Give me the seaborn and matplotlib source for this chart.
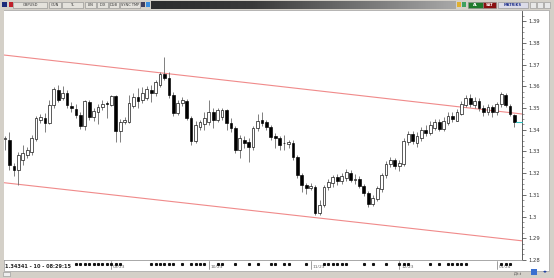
import numpy as np
import pandas as pd
import matplotlib
matplotlib.use("Agg")
import matplotlib.pyplot as plt
import matplotlib.transforms as mtrans
from matplotlib.patches import Rectangle
from matplotlib.colors import LinearSegmentedColormap
import seaborn as sns

# ---------------- data (GBPUSD daily candles) ----------------
opens = [1.3358, 1.3353, 1.3233, 1.3215, 1.3261, 1.3284, 1.3298, 1.3358, 1.3446, 1.3455,
         1.3432, 1.3515, 1.3584, 1.3547, 1.3570, 1.3510, 1.3496, 1.3469, 1.3418, 1.3528,
         1.3459, 1.3482, 1.3505, 1.3524, 1.3515, 1.3556, 1.3395, 1.3436, 1.3436, 1.3510,
         1.3551, 1.3538, 1.3547, 1.3584, 1.3570, 1.3607, 1.3658, 1.3639, 1.3561, 1.3478,
         1.3524, 1.3533, 1.3455, 1.3349, 1.3413, 1.3427, 1.3436, 1.3482, 1.3446, 1.3459,
         1.3492, 1.3432, 1.3409, 1.3307, 1.3353, 1.3344, 1.3321, 1.3409, 1.3446, 1.3436,
         1.3413, 1.3371, 1.3362, 1.3339, 1.3335, 1.3339, 1.3275, 1.3192, 1.3146, 1.3132,
         1.3137, 1.3017, 1.3054, 1.3137, 1.3155, 1.3183, 1.3164, 1.3180, 1.3200, 1.3170,
         1.3175, 1.3140, 1.3110, 1.3060, 1.3080, 1.3125, 1.3190, 1.3240, 1.3260, 1.3235,
         1.3240, 1.3345, 1.3380, 1.3340, 1.3360, 1.3400, 1.3385, 1.3410, 1.3435, 1.3405,
         1.3430, 1.3465, 1.3440, 1.3475, 1.3515, 1.3545, 1.3515, 1.3535, 1.3500, 1.3480,
         1.3505, 1.3480, 1.3519, 1.3561, 1.3510, 1.3469]
closes = [1.3360, 1.3238, 1.3215, 1.3284, 1.3293, 1.3307, 1.3363, 1.3455, 1.3459, 1.3432,
          1.3515, 1.3588, 1.3538, 1.3570, 1.3515, 1.3501, 1.3469, 1.3418, 1.3533, 1.3459,
          1.3487, 1.3505, 1.3519, 1.3519, 1.3556, 1.3395, 1.3436, 1.3446, 1.3524, 1.3551,
          1.3533, 1.3570, 1.3588, 1.3570, 1.3621, 1.3658, 1.3639, 1.3561, 1.3478, 1.3524,
          1.3538, 1.3455, 1.3349, 1.3422, 1.3436, 1.3455, 1.3482, 1.3446, 1.3492, 1.3492,
          1.3432, 1.3409, 1.3307, 1.3363, 1.3339, 1.3321, 1.3409, 1.3441, 1.3432, 1.3413,
          1.3367, 1.3362, 1.3330, 1.3337, 1.3344, 1.3275, 1.3192, 1.3146, 1.3132, 1.3141,
          1.3017, 1.3054, 1.3137, 1.3160, 1.3183, 1.3164, 1.3188, 1.3205, 1.3170, 1.3175,
          1.3140, 1.3110, 1.3060, 1.3085, 1.3130, 1.3190, 1.3240, 1.3260, 1.3235, 1.3245,
          1.3350, 1.3380, 1.3350, 1.3370, 1.3400, 1.3385, 1.3420, 1.3435, 1.3405, 1.3440,
          1.3465, 1.3450, 1.3480, 1.3520, 1.3545, 1.3520, 1.3535, 1.3500, 1.3480, 1.3505,
          1.3480, 1.3520, 1.3565, 1.3515, 1.3473, 1.3434]
highs = [1.3371, 1.3390, 1.3245, 1.3298, 1.3330, 1.3321, 1.3376, 1.3464, 1.3473, 1.3478,
         1.3538, 1.3598, 1.3607, 1.3602, 1.3584, 1.3528, 1.3519, 1.3482, 1.3538, 1.3538,
         1.3501, 1.3519, 1.3538, 1.3533, 1.3561, 1.3561, 1.3450, 1.3459, 1.3561, 1.3570,
         1.3593, 1.3598, 1.3602, 1.3607, 1.3630, 1.3667, 1.3736, 1.3667, 1.3575, 1.3538,
         1.3551, 1.3542, 1.3464, 1.3441, 1.3446, 1.3482, 1.3538, 1.3501, 1.3501, 1.3501,
         1.3496, 1.3455, 1.3418, 1.3376, 1.3371, 1.3362, 1.3418, 1.3473, 1.3482, 1.3446,
         1.3422, 1.3385, 1.3371, 1.3376, 1.3353, 1.3353, 1.3284, 1.3201, 1.3155, 1.3155,
         1.3146, 1.3077, 1.3146, 1.3174, 1.3192, 1.3197, 1.3201, 1.3220, 1.3215, 1.3195,
         1.3185, 1.3150, 1.3120, 1.3100, 1.3140, 1.3200, 1.3255, 1.3275, 1.3270, 1.3260,
         1.3360, 1.3395, 1.3395, 1.3390, 1.3415, 1.3420, 1.3440, 1.3450, 1.3450, 1.3460,
         1.3480, 1.3480, 1.3495, 1.3535, 1.3560, 1.3565, 1.3550, 1.3545, 1.3515, 1.3520,
         1.3515, 1.3530, 1.3575, 1.3570, 1.3520, 1.3475]
lows = [1.3307, 1.3215, 1.3187, 1.3146, 1.3238, 1.3270, 1.3284, 1.3348, 1.3432, 1.3390,
        1.3427, 1.3501, 1.3528, 1.3538, 1.3501, 1.3482, 1.3455, 1.3404, 1.3400, 1.3446,
        1.3441, 1.3427, 1.3492, 1.3455, 1.3510, 1.3344, 1.3344, 1.3427, 1.3432, 1.3501,
        1.3501, 1.3524, 1.3538, 1.3528, 1.3556, 1.3598, 1.3630, 1.3547, 1.3464, 1.3469,
        1.3510, 1.3446, 1.3330, 1.3339, 1.3400, 1.3400, 1.3422, 1.3409, 1.3436, 1.3446,
        1.3400, 1.3390, 1.3293, 1.3270, 1.3316, 1.3252, 1.3307, 1.3395, 1.3418, 1.3400,
        1.3353, 1.3316, 1.3307, 1.3307, 1.3316, 1.3261, 1.3178, 1.3114, 1.3104, 1.3123,
        1.3008, 1.3008, 1.3045, 1.3123, 1.3137, 1.3146, 1.3150, 1.3165, 1.3160, 1.3150,
        1.3130, 1.3095, 1.3045, 1.3050, 1.3070, 1.3115, 1.3180, 1.3230, 1.3220, 1.3210,
        1.3235, 1.3330, 1.3335, 1.3320, 1.3350, 1.3370, 1.3375, 1.3400, 1.3395, 1.3395,
        1.3420, 1.3435, 1.3440, 1.3470, 1.3505, 1.3505, 1.3500, 1.3485, 1.3465, 1.3470,
        1.3460, 1.3470, 1.3505, 1.3505, 1.3465, 1.3412]

channel_x = [-1.1, 116.7]
channel_upper = [1.3747, 1.3473]
channel_lower = [1.3158, 1.2888]

last_price = 1.34341
y_ticks = [1.28, 1.29, 1.30, 1.31, 1.32, 1.33, 1.34, 1.35, 1.36, 1.37, 1.38, 1.39]
month_pos = [24, 46, 69, 89, 111]
month_labels = ["09/23", "10/23", "11/23", "12/23", "01/24"]
event_days = [16, 17, 18, 19, 20, 21, 22, 23, 24, 25, 26, 33, 34, 35, 36, 37, 38, 40,
              42, 43, 44, 45, 48, 49, 52, 55, 57, 60, 61, 63, 64, 68, 72, 73, 74, 75,
              76, 77, 81, 83, 86, 89, 90, 91, 96, 98, 100, 101, 102, 103, 104, 112,
              113, 114]
status_text = "1.34341 - 10 - 08:29:15"

# ---------------- figure ----------------
sns.set_style("white")
plt.rcParams["font.family"] = ["DejaVu Sans"]

W, H = 554, 278
fig = plt.figure(figsize=(W / 100, H / 100), dpi=100)
fig.patch.set_facecolor("#d4d0c8")

# background / window chrome in pixel coordinates
bg = fig.add_axes([0, 0, 1, 1], zorder=0)
bg.set_xlim(0, W)
bg.set_ylim(H, 0)
bg.axis("off")
bg.add_patch(Rectangle((4, 10), 545, 261, facecolor="white", edgecolor="#a0a0a0", lw=0.5))
# title bar
bg.add_patch(Rectangle((0, 0), W, 9.5, facecolor="#d4d0c8", edgecolor="none"))
grad = np.linspace(0, 1, 256).reshape(1, -1)
cmap = LinearSegmentedColormap.from_list("tb", ["#2c2c2c", "#3a3a3a", "#707070", "#a8a8a8"])
bg.imshow(grad, extent=[151, 456, 9, 1], aspect="auto", cmap=cmap, zorder=1)

def button(x0, x1, label, fc="#e4e2dc", tc="#333333", fw="normal"):
    bg.add_patch(Rectangle((x0, 1.5), x1 - x0, 6.5, facecolor=fc, edgecolor="#8a8a8a", lw=0.4, zorder=2))
    bg.text((x0 + x1) / 2, 4.9, label, fontsize=2.6, color=tc, ha="center", va="center",
            fontweight=fw, zorder=3)

bg.add_patch(Rectangle((2, 2), 5, 5, facecolor="#1c2c7a", edgecolor="none", zorder=2))
bg.add_patch(Rectangle((9, 2), 4, 5, facecolor="#c0202a", edgecolor="none", zorder=3))
button(13, 47, "GBPUSD")
button(49, 61, "GUN")
button(62, 83, "TL")
button(85, 96, "LIN")
button(97, 108, "IDX")
button(109, 119, "DUB")
button(120, 140, "SYNC TMP")
bg.add_patch(Rectangle((141, 2), 4, 5, facecolor="#404060", edgecolor="none", zorder=2))
bg.add_patch(Rectangle((146, 2), 4, 5, facecolor="#3a8ee0", edgecolor="none", zorder=2))
bg.add_patch(Rectangle((457, 2), 4, 5, facecolor="#e0b030", edgecolor="none", zorder=2))
bg.add_patch(Rectangle((462, 2), 4, 5, facecolor="#40a060", edgecolor="none", zorder=2))
button(468, 483, "AL", fc="#1f7a2c", tc="white", fw="bold")
button(483, 496, "SAT", fc="#8a1010", tc="white", fw="bold")
button(498, 528, "MATRIKS", fc="#dcdce8", tc="#20308a", fw="bold")
for bx in (530, 537, 544):
    bg.add_patch(Rectangle((bx, 2), 6, 5.5, facecolor="#e8e8e8", edgecolor="#909090", lw=0.4, zorder=2))

# status / bottom chrome
bg.text(5, 266, status_text, fontsize=3.6, fontweight="bold", color="#222222", va="center", ha="left")
bg.add_patch(Rectangle((3, 272), 7, 4, facecolor="#eeeeee", edgecolor="#909090", lw=0.4))
bg.text(518, 273, "Д.t.t", fontsize=2.6, color="#444444", ha="center", va="center")
bg.add_patch(Rectangle((531, 269), 6, 6, facecolor="#3b6fd0", edgecolor="none"))
bg.text(545, 272, "◂▸", fontsize=3.5, color="#2040a0", ha="center", va="center")

# ---------------- main chart ----------------
left, right, top, bottom = 4, 522, 11, 260
ax = fig.add_axes([left / W, (H - bottom) / H, (right - left) / W, (bottom - top) / H], zorder=2)
ax.set_facecolor("white")

o = np.array(opens); c = np.array(closes); h = np.array(highs); l = np.array(lows)
idx = np.arange(len(o))
up = c >= o

ax.vlines(idx, l, h, color="#6a6a6a", lw=0.6, zorder=2)
ax.bar(idx[up], np.maximum(c[up] - o[up], 0.00015), bottom=o[up], width=0.62,
       color="white", edgecolor="black", lw=0.45, zorder=3)
ax.bar(idx[~up], c[~up] - o[~up], bottom=o[~up], width=0.62,
       color="black", edgecolor="black", lw=0.45, zorder=3)

chan = pd.DataFrame({"x": channel_x * 2,
                     "price": channel_upper + channel_lower,
                     "line": ["upper"] * 2 + ["lower"] * 2})
sns.lineplot(data=chan, x="x", y="price", units="line", estimator=None,
             color="#f08a8a", lw=0.8, ax=ax, legend=False, zorder=1)

# current price marker
ax.plot([115.4, 116.7], [last_price, last_price], color="#30c0c0", lw=0.8, zorder=4, clip_on=False)

ax.set_xlim(-0.23, 116.7)
ax.set_ylim(1.27995, 1.3948)
ax.set_xlabel("")
ax.set_ylabel("")

ax.yaxis.tick_right()
ax.set_yticks(y_ticks)
ax.set_yticklabels([f"{v:g}" for v in y_ticks])
ax.set_yticks(np.arange(1.28, 1.395, 0.0025), minor=True)
ax.tick_params(axis="y", which="major", direction="out", length=3, width=0.5,
               labelsize=3.8, pad=1.5, colors="#333333", right=True, left=False)
ax.tick_params(axis="y", which="minor", direction="out", length=1.2, width=0.4,
               colors="#555555", right=True, left=False)
ax.set_xticks([])

for side in ("left", "top"):
    ax.spines[side].set_visible(False)
ax.spines["right"].set_color("#444444")
ax.spines["right"].set_linewidth(0.6)
ax.spines["bottom"].set_color("#9a9a9a")
ax.spines["bottom"].set_linewidth(0.6)

# bottom date axis decorations
trans = mtrans.blended_transform_factory(ax.transData, ax.transAxes)
ax.plot(event_days, [-0.017] * len(event_days), "s", ms=1.2, color="#111111",
        transform=trans, clip_on=False, zorder=5)
for p, lab in zip(month_pos, month_labels):
    ax.plot([p, p], [-0.005, -0.035], color="#777777", lw=0.5, transform=trans, clip_on=False)
    ax.text(p + 0.4, -0.03, lab, transform=trans, fontsize=3.2, color="#666666",
            ha="left", va="center", clip_on=False)

fig.savefig("out.png", dpi=100, facecolor=fig.get_facecolor())
